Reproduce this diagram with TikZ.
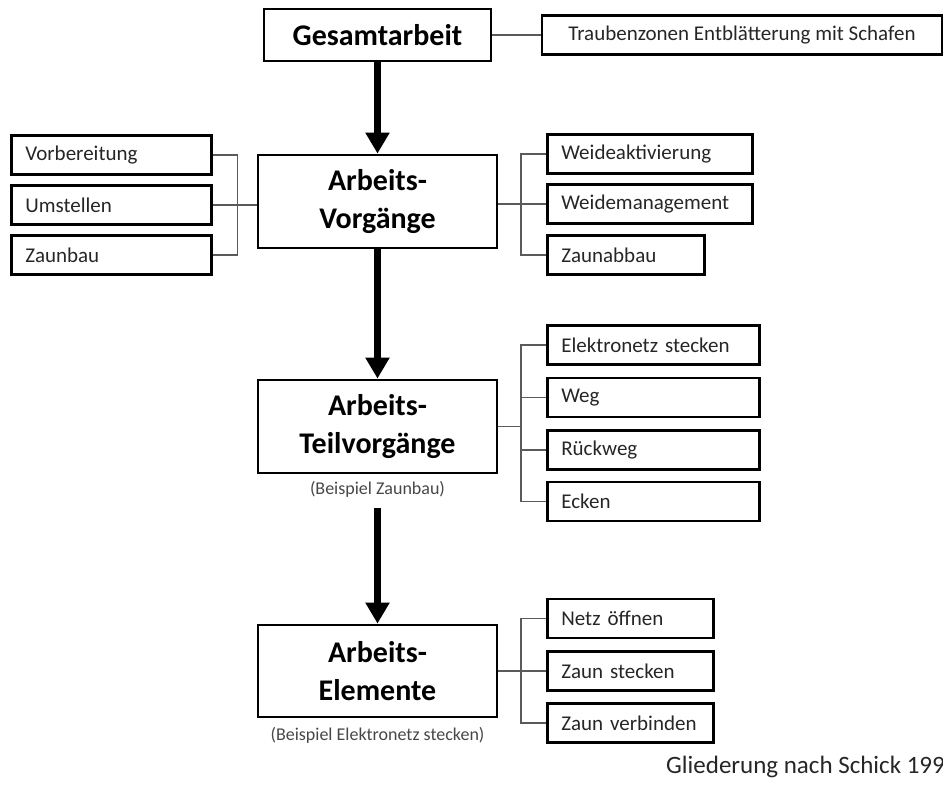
\documentclass[tikz,border=0pt]{standalone}
\usepackage{fontspec}
\setmainfont{Carlito}
\usetikzlibrary{arrows.meta}
\definecolor{txt}{HTML}{262626}
\definecolor{lnk}{HTML}{5A5A5A}
\tikzset{
  mainbox/.style={draw=black, line width=2.8pt, inner sep=0pt, align=center,
    font=\bfseries\fontsize{30}{38}\selectfont, text=black},
  subbox/.style={draw=black, line width=2.6pt, anchor=west, minimum height=39pt,
    inner xsep=14pt, inner ysep=0pt, text width=#1, align=left,
    font=\fontsize{21}{25}\selectfont, text=txt},
  caption/.style={inner sep=0pt, font=\fontsize{18}{22}\selectfont, text=txt!85},
  link/.style={draw=lnk, line width=1.3pt},
  bigarrow/.style={draw=black, line width=7pt, -{Triangle[length=21pt,width=23pt]}}
}
\begin{document}
\begin{tikzpicture}[x=1pt,y=-1pt]
\useasboundingbox (0,0) rectangle (943,789);
% main column
\node[mainbox, minimum width=227pt, minimum height=52pt] (g) at (377.5,35) {Gesamtarbeit};
\node[mainbox, minimum width=239pt, minimum height=93pt] (v) at (377.5,201.5) {Arbeits-\\Vorgänge};
\node[mainbox, minimum width=239pt, minimum height=93pt] (tv) at (377.5,426.5) {Arbeits-\\Teilvorgänge};
\node[caption] (c1) at (377.5,489) {(Beispiel Zaunbau)};
\node[mainbox, minimum width=239pt, minimum height=92pt] (e) at (377.5,671) {Arbeits-\\Elemente};
\node[caption] (c2) at (377.5,735) {(Beispiel Elektronetz stecken)};
\coordinate (a3) at (377.5,508);
% top right
\node[draw=black, line width=2.6pt, minimum width=400pt, minimum height=39pt, inner sep=0pt,
  font=\fontsize{21}{25}\selectfont, text=txt] (t) at (742,35) {Traubenzonen Entblätterung mit Schafen};
% left of Vorgänge
\node[subbox=172pt] (l1) at (10,155) {Vorbereitung};
\node[subbox=172pt] (l2) at (10,205) {Umstellen};
\node[subbox=172pt] (l3) at (10,255) {Zaunbau};
% right of Vorgänge
\node[subbox=177pt] (r1) at (546,154) {Weideaktivierung};
\node[subbox=177pt] (r2) at (546,204) {Weidemanagement};
\node[subbox=129pt] (r3) at (546,255) {Zaunabbau};
% right of Teilvorgänge
\node[subbox=184pt] (s1) at (546,345) {Elektronetz stecken};
\node[subbox=184pt] (s2) at (546,397.5) {Weg};
\node[subbox=184pt] (s3) at (546,450) {Rückweg};
\node[subbox=184pt] (s4) at (546,501.5) {Ecken};
% right of Elemente
\node[subbox=138pt] (e1) at (546,618.5) {Netz öffnen};
\node[subbox=138pt] (e2) at (546,671) {Zaun stecken};
\node[subbox=138pt] (e3) at (546,723) {Zaun verbinden};
% source note
\node[anchor=west, inner sep=0pt, font=\fontsize{25}{30}\selectfont, text=txt] (src) at (666,767) {Gliederung nach Schick 199};
% arrows
\draw[bigarrow] (g.south) -- (v.north);
\draw[bigarrow] (v.south) -- (tv.north);
\draw[bigarrow] (a3) -- (e.north);
% connectors
\draw[link] (g.east) -- (g.east -| t.west);
\draw[link] (l1.east) -- ++(25,0) coordinate (lj) |- (l3.east);
\draw[link] (l2.east) -- (l2.east -| v.west);
\draw[link] (r1.west) -- ++(-25,0) coordinate (rj) |- (r3.west);
\draw[link] (v.east |- r2.west) -- (r2.west);
\draw[link] (s1.west) -- ++(-25,0) coordinate (sj) |- (s4.west);
\draw[link] (s2.west) -- (s2.west -| sj);
\draw[link] (s3.west) -- (s3.west -| sj);
\draw[link] (tv.east) -- (tv.east -| sj);
\draw[link] (e1.west) -- ++(-25,0) coordinate (ej) |- (e3.west);
\draw[link] (e.east) -- (e2.west);
\end{tikzpicture}
\end{document}
